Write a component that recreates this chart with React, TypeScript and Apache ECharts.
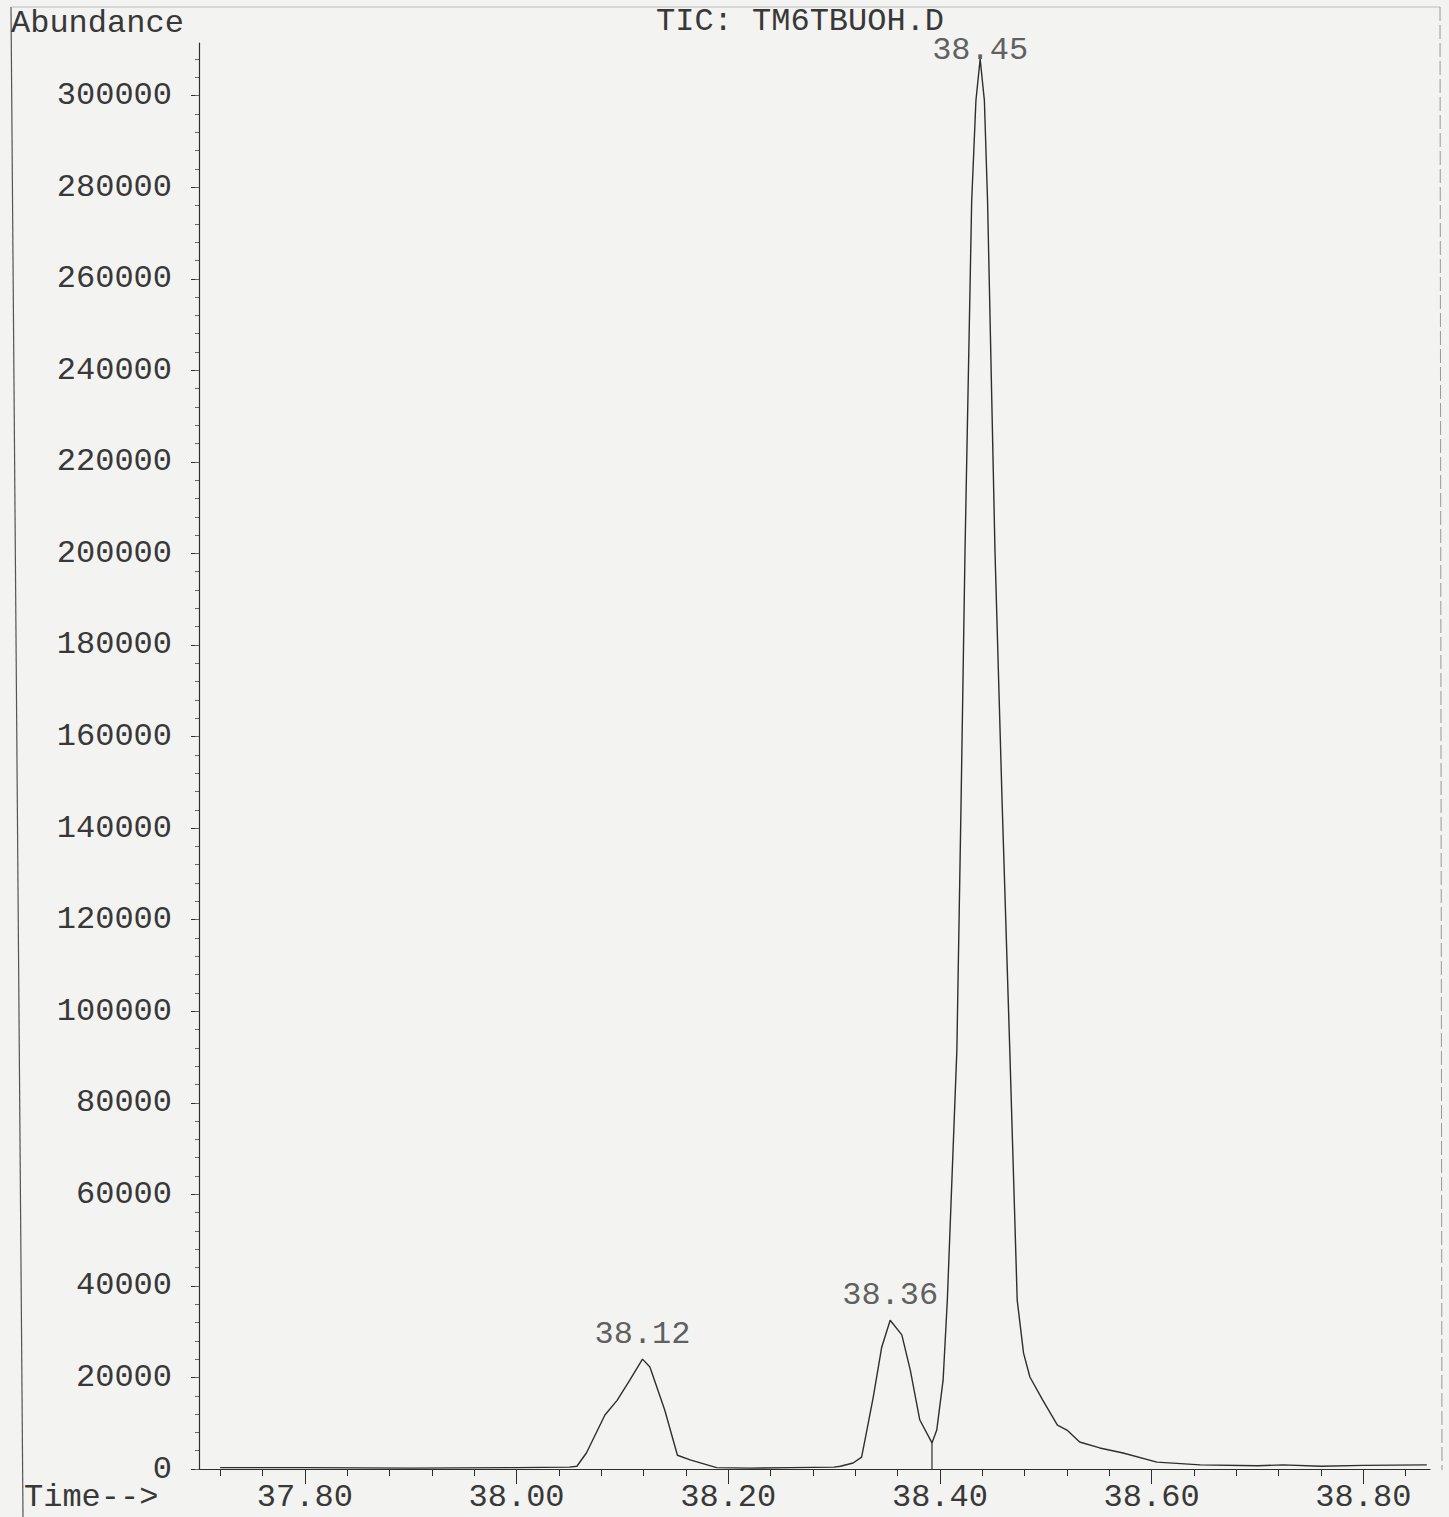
import React, { useEffect, useRef } from "react";
import * as echarts from "echarts";

// Retention time (min) and abundance
const times = [
  37.72, 37.8, 37.9, 38.0, 38.05, 38.057, 38.066, 38.0835, 38.095, 38.107, 38.119, 38.126, 38.14,
  38.152, 38.164, 38.189, 38.22, 38.26, 38.3, 38.306, 38.318, 38.326, 38.331, 38.337, 38.345, 38.353,
  38.364, 38.372, 38.381, 38.3925, 38.397, 38.403, 38.407, 38.416, 38.42, 38.4237, 38.43, 38.434,
  38.438, 38.442, 38.445, 38.452, 38.4587, 38.466, 38.473, 38.479, 38.485, 38.497, 38.511, 38.52,
  38.532, 38.551, 38.573, 38.605, 38.646, 38.7, 38.724, 38.76, 38.8, 38.86,
];
const abundance = [
  300, 300, 200, 300, 400, 600, 3500, 11800, 15000, 19400, 24000, 22300, 12900,
  3000, 2000, 300, 200, 300, 400, 600, 1300, 2600, 8500, 15700, 26600, 32500,
  29300, 21600, 10700, 5700, 8500, 19400, 36900, 91500, 146000, 200600, 277000, 298900,
  308000, 298900, 277000, 200600, 146000, 91500, 36900, 25300, 20100, 15100, 9600, 8500,
  5900, 4600, 3500, 1500, 900, 700, 900, 600, 800, 900,
];

// Peak apexes and their printed retention-time labels
const peakTimes = [38.119, 38.353, 38.438];
const peakValues = [24000, 32500, 308000];
const peakLabels = ["38.12", "38.36", "38.45"];

// Valley drop line between 38.36 and 38.45
const dropTimes = [38.3925, 38.3925];
const dropValues = [0, 5700];

// Axis ticks
const xMajorTicks = [37.8, 38.0, 38.2, 38.4, 38.6, 38.8];
const xMinorStep = 0.04;
const yMajorTicks = [
  0, 20000, 40000, 60000, 80000, 100000, 120000, 140000, 160000, 180000, 200000, 220000, 240000,
  260000, 280000, 300000,
];
const yMinorStep = 4000;

const X_MIN = 37.7;
const X_MAX = 38.863;
const Y_MAX = 311500;

const FONT = "'Liberation Mono', 'DejaVu Sans Mono', monospace";
const TEXT = "#383838";
const LINE = "#2e2e2e";
const FS = 32;

export default function App() {
  const ref = useRef<HTMLDivElement>(null);

  useEffect(() => {
    if (!ref.current) return;
    const chart = echarts.init(ref.current, undefined, { renderer: "svg" });

    const xMinor: number[] = [];
    for (let v = 37.72; v < X_MAX; v += xMinorStep) xMinor.push(Math.round(v * 100) / 100);
    const yMinor: number[] = [];
    for (let v = 0; v <= Y_MAX; v += yMinorStep) yMinor.push(v);

    const lineData = times.map((t, i) => [t, abundance[i]]);
    const dropData = dropTimes.map((t, i) => [t, dropValues[i]]);
    const peakData = peakTimes.map((t, i) => ({
      value: [t, peakValues[i]],
      label: { distance: i === 2 ? -8 : 8 },
    }));

    chart.setOption({
      animation: false,
      backgroundColor: "#f3f3f1",
      textStyle: { fontFamily: FONT },
      grid: { left: 199, right: 19, top: 43, bottom: 48, containLabel: false },
      xAxis: [
        {
          type: "value",
          min: X_MIN,
          max: X_MAX,
          position: "bottom",
          axisLine: { show: true, onZero: false, lineStyle: { color: LINE, width: 1.2 } },
          axisTick: { show: true, customValues: xMajorTicks, length: 15, lineStyle: { color: LINE } },
          axisLabel: {
            customValues: xMajorTicks,
            formatter: (v: number) => v.toFixed(2),
            fontFamily: FONT,
            fontSize: FS,
            color: TEXT,
            margin: 12,
          },
          splitLine: { show: false },
        },
        {
          type: "value",
          min: X_MIN,
          max: X_MAX,
          position: "bottom",
          axisLine: { show: false },
          axisTick: { show: true, customValues: xMinor, length: 7, lineStyle: { color: LINE } },
          axisLabel: { show: false },
          splitLine: { show: false },
        },
      ],
      yAxis: [
        {
          type: "value",
          min: 0,
          max: Y_MAX,
          position: "left",
          axisLine: { show: true, onZero: false, lineStyle: { color: LINE, width: 1.2 } },
          axisTick: { show: true, customValues: yMajorTicks, length: 8, lineStyle: { color: LINE } },
          axisLabel: {
            customValues: yMajorTicks,
            formatter: (v: number) => String(v),
            fontFamily: FONT,
            fontSize: FS,
            color: TEXT,
            margin: 27,
          },
          splitLine: { show: false },
        },
        {
          type: "value",
          min: 0,
          max: Y_MAX,
          position: "left",
          axisLine: { show: false },
          axisTick: { show: true, customValues: yMinor, length: 4, lineStyle: { color: "#666" } },
          axisLabel: { show: false },
          splitLine: { show: false },
        },
      ],
      series: [
        {
          type: "line",
          data: lineData,
          showSymbol: false,
          symbol: "none",
          lineStyle: { color: LINE, width: 1.4 },
          z: 3,
        },
        {
          type: "line",
          data: dropData,
          showSymbol: false,
          symbol: "none",
          lineStyle: { color: LINE, width: 1.2 },
          z: 3,
        },
        {
          type: "scatter",
          data: peakData,
          symbolSize: 1,
          itemStyle: { color: "rgba(0,0,0,0)" },
          label: {
            show: true,
            position: "top",
            formatter: (p: any) => peakLabels[p.dataIndex],
            fontFamily: FONT,
            fontSize: FS,
            color: TEXT,
          },
          z: 4,
        },
      ],
      graphic: [
        {
          type: "line",
          shape: { x1: 11, y1: 7, x2: 23, y2: 1517 },
          style: { stroke: "#555", lineWidth: 1.2 },
          silent: true,
        },
        {
          type: "line",
          shape: { x1: 11, y1: 7, x2: 1440, y2: 7 },
          style: { stroke: "#bbb", lineWidth: 1 },
          silent: true,
        },
        {
          type: "line",
          shape: { x1: 1440, y1: 7, x2: 1442, y2: 1470 },
          style: { stroke: "#999", lineWidth: 1, lineDash: [14, 4] },
          silent: true,
        },
        {
          type: "text",
          left: 11,
          top: 7,
          style: { text: "Abundance", font: `${FS}px ${FONT}`, fill: TEXT },
          silent: true,
        },
        {
          type: "text",
          left: 24,
          top: 1481,
          style: { text: "Time-->", font: `${FS}px ${FONT}`, fill: TEXT },
          silent: true,
        },
        {
          type: "text",
          left: 656,
          top: 5,
          style: { text: "TIC: TM6TBUOH.D", font: `${FS}px ${FONT}`, fill: TEXT },
          silent: true,
        },
      ],
    });

    return () => chart.dispose();
  }, []);

  return (
    <div
      ref={ref}
      style={{ position: "fixed", left: 0, top: 0, width: 1449, height: 1517 }}
    />
  );
}
